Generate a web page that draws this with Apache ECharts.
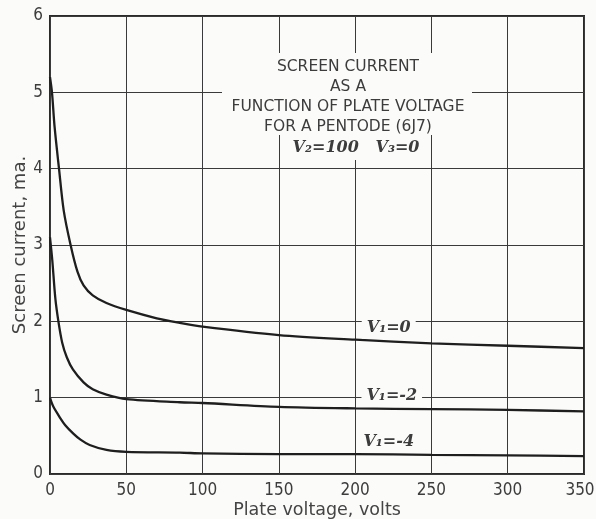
<!DOCTYPE html>
<html>
<head>
<meta charset="utf-8">
<script src="https://cdn.jsdelivr.net/npm/echarts@6/dist/echarts.min.js"></script>
<style>
html,body{margin:0;padding:0;background:#fbfbfa;}
#c{width:596px;height:519px;}
</style>
</head>
<body>
<div id="c"></div>
<script>
// Data
const xTicks = [0, 50, 100, 150, 200, 250, 300, 350];
const yTicks = [0, 1, 2, 3, 4, 5, 6];

const v1_0 = [[0,5.2],[1.3,5.0],[3,4.55],[5.9,4.0],[9,3.45],[13.5,3.0],[18,2.65],[22,2.47],[28,2.34],[37,2.24],[50,2.15],[70,2.04],[85,1.98],[100,1.93],[150,1.82],[200,1.76],[250,1.71],[300,1.68],[350,1.65]];
const v1_m2 = [[0,3.1],[1.5,2.8],[3.5,2.3],[5.5,2.0],[8,1.72],[11,1.53],[15,1.37],[22,1.2],[28,1.11],[37,1.04],[50,0.98],[85,0.94],[100,0.93],[150,0.88],[200,0.86],[250,0.85],[300,0.84],[350,0.82]];
const v1_m4 = [[0,1.0],[2,0.89],[6.5,0.74],[10,0.64],[15.3,0.53],[20,0.45],[26,0.38],[37,0.315],[50,0.29],[85,0.28],[100,0.27],[150,0.26],[200,0.26],[250,0.25],[300,0.245],[350,0.235]];

const curveLabels = ['V\u2081=0', 'V\u2081=-2', 'V\u2081=-4'];
const labelPos = [[222, 1.91], [224, 1.02], [222, 0.42]];
const titleLines = ['SCREEN CURRENT', 'AS A', 'FUNCTION OF PLATE VOLTAGE', 'FOR A PENTODE (6J7)'];
const subTitle = 'V\u2082=100   V\u2083=0';
const xName = 'Plate voltage, volts';
const yName = 'Screen current, ma.';

const tickFont = "'DejaVu Sans Condensed','Liberation Sans Narrow','DejaVu Sans',sans-serif";
const titleFont = "'DejaVu Sans','Liberation Sans',sans-serif";
const labFont = "'DejaVu Serif','Liberation Serif',serif";
const BG = '#fbfbfa';
const INK = '#3c3c3c';

const chart = echarts.init(document.getElementById('c'), null, {renderer:'canvas'});

function mkSeries(data, idx){
  return {
    type:'line', data:data, showSymbol:false, smooth:0.3,
    lineStyle:{color:'#1e1e1e', width:2.3}, silent:true,
    markPoint:{
      symbol:'rect', symbolSize:[1,1], silent:true,
      itemStyle:{color:'rgba(0,0,0,0)'},
      data:[{coord:labelPos[idx], value:curveLabels[idx]}],
      label:{show:true, position:'inside', formatter:curveLabels[idx],
        color:INK, fontFamily:labFont, fontStyle:'italic', fontWeight:'bold', fontSize:16,
        backgroundColor:BG, padding:[4,5,1,5]}
    }
  };
}

const xMax = xTicks[xTicks.length-1];

const option = {
  backgroundColor:BG,
  animation:false,
  grid:{left:50, top:16, right:12, bottom:45, show:true, borderColor:'#2a2a2a', borderWidth:2,
        containLabel:false, outerBoundsMode:'none'},
  xAxis:{
    type:'value', min:xTicks[0], max:xMax, interval:50,
    name:xName, nameLocation:'middle', nameGap:27, nameMoveOverlap:false,
    nameTextStyle:{fontFamily:titleFont, fontSize:17.5, color:'#444'},
    axisLine:{show:false}, axisTick:{show:false},
    axisLabel:{fontFamily:tickFont, fontSize:17, color:INK, margin:8,
      formatter:v => v === xMax ? '{e|' + v + '}' : String(v),
      rich:{e:{fontFamily:tickFont, fontSize:17, color:INK, padding:[0,8,0,0]}}},
    splitLine:{show:true, lineStyle:{color:'#3a3a3a', width:1}}
  },
  yAxis:{
    type:'value', min:yTicks[0], max:yTicks[yTicks.length-1], interval:1,
    name:yName, nameLocation:'middle', nameGap:21, nameMoveOverlap:false,
    nameTextStyle:{fontFamily:titleFont, fontSize:18, color:'#444'},
    axisLine:{show:false}, axisTick:{show:false},
    axisLabel:{fontFamily:tickFont, fontSize:17, color:INK, margin:7},
    splitLine:{show:true, lineStyle:{color:'#3a3a3a', width:1}}
  },
  series:[mkSeries(v1_0,0), mkSeries(v1_m2,1), mkSeries(v1_m4,2)],
  graphic:[
    {type:'rect', shape:{x:222, y:53, width:250, height:82}, style:{fill:BG}, z:50},
    {type:'rect', shape:{x:286, y:135, width:144, height:25}, style:{fill:BG}, z:50},
  ].concat(titleLines.map((t,i)=>({
    type:'text', x:348, y:67 + i*20, z:60,
    style:{text:t, fill:INK, font:"15.5px "+titleFont, textAlign:'center', textVerticalAlign:'middle'}
  }))).concat([
    {type:'text', x:356, y:148, z:60,
     style:{text:subTitle, fill:INK, font:"italic bold 16px "+labFont, textAlign:'center', textVerticalAlign:'middle'}}
  ])
};
chart.setOption(option);
</script>
</body>
</html>
